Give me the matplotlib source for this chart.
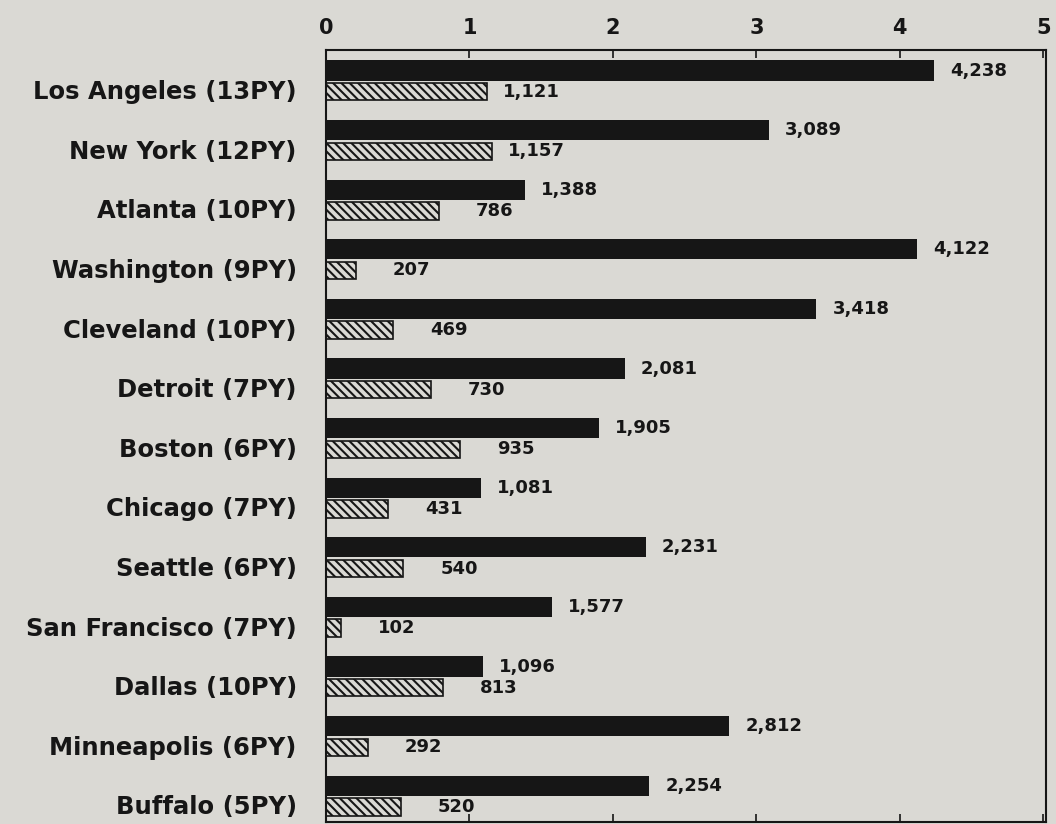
import numpy as np
import matplotlib.pyplot as plt

cities = ["Los Angeles (13PY)", "New York (12PY)", "Atlanta (10PY)",
          "Washington (9PY)", "Cleveland (10PY)", "Detroit (7PY)",
          "Boston (6PY)", "Chicago (7PY)", "Seattle (6PY)",
          "San Francisco (7PY)", "Dallas (10PY)", "Minneapolis (6PY)",
          "Buffalo (5PY)"]
solid_vals = [4238, 3089, 1388, 4122, 3418, 2081, 1905, 1081, 2231, 1577, 1096, 2812, 2254]
hatch_vals = [1121, 1157, 786, 207, 469, 730, 935, 431, 540, 102, 813, 292, 520]
x_ticks = [0, 1, 2, 3, 4, 5]

paper = "#dad9d4"
ink = "#161616"

plt.rcParams['font.family'] = ['DejaVu Sans']
plt.rcParams['hatch.linewidth'] = 1.5
plt.rcParams['hatch.color'] = ink

fig = plt.figure(figsize=(10.56, 8.24), dpi=100, facecolor=paper)
ax = fig.add_axes([0.3087, 0.003, 0.682, 0.936], facecolor=paper)

y = np.arange(len(cities))
h_solid = 0.34
h_hatch = 0.29
off = h_solid / 2 + 0.04 + h_hatch / 2

solid_k = np.array(solid_vals) / 1000
hatch_k = np.array(hatch_vals) / 1000

ax.barh(y, solid_k, height=h_solid, color=ink, edgecolor='none')
ax.barh(y + off, hatch_k, height=h_hatch, facecolor=paper, edgecolor=ink,
        linewidth=1.2, hatch='\\\\\\\\')

# value labels, wider gap for 3-digit numbers
def put_label(val, yy):
    gap = 16 if val >= 1000 else 37
    ax.annotate(f"{val:,}", xy=(val / 1000, yy), xytext=(gap, 0),
                textcoords='offset pixels', ha='left', va='center',
                fontsize=13, fontweight='bold', color=ink)

for i in range(len(cities)):
    put_label(solid_vals[i], y[i])
    put_label(hatch_vals[i], y[i] + off)

ax.set_xlim(0, 5.02)
ax.set_ylim(12.6, -0.34)

ax.xaxis.tick_top()
ax.set_xticks(x_ticks)
ax.set_xticklabels([str(t) for t in x_ticks], fontsize=15, fontweight='bold', color=ink)
ax.tick_params(axis='x', which='both', direction='in', length=6, width=1.2,
               pad=9, top=True, bottom=True, color=ink)

ax.set_yticks(y + 0.32)
ax.set_yticklabels(cities, fontsize=17.5, fontweight='bold', color=ink)
ax.tick_params(axis='y', length=0, pad=21)

for side in ['top', 'bottom', 'left', 'right']:
    ax.spines[side].set_color(ink)
    ax.spines[side].set_linewidth(1.5)

fig.savefig("out.png", dpi=100, facecolor=paper)
